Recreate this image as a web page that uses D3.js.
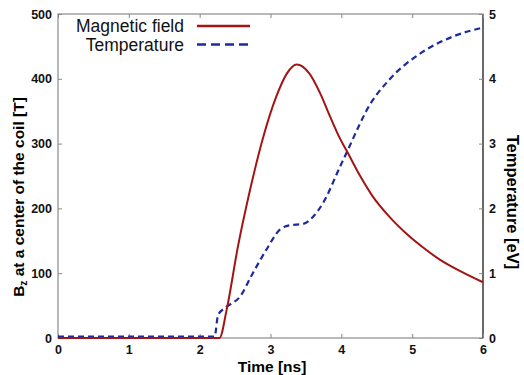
<!DOCTYPE html>
<html>
<head>
	<title></title>
	<style>
		body { margin: 0; background: #fff; }
		text { font-family: "Liberation Sans", Arial, sans-serif; }
	</style>
</head>
<body>

<svg id="chart" width="524" height="375"></svg>

<script src="https://d3js.org/d3.v7.min.js"></script>
<script>
	// Magnetic field (left axis, T) vs time (ns)
	const fieldTime = [0, 2.28, 2.38, 2.54, 2.71, 2.90, 3.08, 3.23, 3.37, 3.55, 3.70, 3.84, 3.98, 4.07, 4.26, 4.44, 4.68, 4.92, 5.15, 5.39, 5.70, 6.0]
	const fieldValue = [0, 0, 43, 141, 228, 311, 372, 408, 422, 408, 378, 342, 308, 290, 251, 219, 187, 161, 140, 121, 102, 86]

	// Temperature (right axis, eV) vs time (ns)
	const tempTime = [0, 2.21, 2.26, 2.38, 2.57, 2.75, 2.94, 3.13, 3.27, 3.46, 3.60, 3.74, 3.98, 4.07, 4.26, 4.35, 4.68, 5.1, 5.57, 6.0]
	const tempValue = [0.02, 0.02, 0.355, 0.48, 0.64, 1.0, 1.36, 1.67, 1.74, 1.76, 1.87, 2.08, 2.64, 2.85, 3.30, 3.50, 3.99, 4.38, 4.65, 4.79]

	const timeTicks = [0, 1, 2, 3, 4, 5, 6]
	const fieldTicks = [0, 100, 200, 300, 400, 500]
	const tempTicks = [0, 1, 2, 3, 4, 5]

	const seriesNames = ['Magnetic field', 'Temperature']
	const seriesColors = ['#a31515', '#1b2a9c']

	const plotLeft = 58, plotRight = 483, plotTop = 14, plotBottom = 338

	const x = d3.scaleLinear().domain([0, 6]).range([plotLeft, plotRight])
	const yB = d3.scaleLinear().domain([0, 500]).range([plotBottom, plotTop])
	const yT = d3.scaleLinear().domain([0, 5]).range([plotBottom, plotTop])

	const svg = d3.select('#chart')

	// frame
	svg.append('rect')
		.attr('x', plotLeft).attr('y', plotTop)
		.attr('width', plotRight - plotLeft).attr('height', plotBottom - plotTop)
		.attr('fill', 'none').attr('stroke', '#8a8a8a').attr('stroke-width', 1.2)
	svg.append('line')
		.attr('x1', plotRight).attr('x2', plotRight).attr('y1', plotTop).attr('y2', plotBottom)
		.attr('stroke', '#333').attr('stroke-width', 1.2)

	// axes with inward ticks
	function styleAxis(g) {
		g.select('.domain').remove()
		g.selectAll('.tick line').attr('stroke', '#888')
		g.selectAll('.tick text')
			.attr('fill', '#111')
			.style('font-size', '12.5px')
			.style('font-weight', 'bold')
	}

	const intFormat = d3.format('d')

	svg.append('g')
		.attr('transform', `translate(0,${plotBottom})`)
		.call(d3.axisBottom(x).tickValues(timeTicks).tickSize(-4).tickPadding(7).tickFormat(intFormat))
		.call(styleAxis)

	svg.append('g')
		.attr('transform', `translate(0,${plotTop})`)
		.call(d3.axisTop(x).tickValues(timeTicks).tickSize(-4).tickFormat(''))
		.call(styleAxis)

	svg.append('g')
		.attr('transform', `translate(${plotLeft},0)`)
		.call(d3.axisLeft(yB).tickValues(fieldTicks).tickSize(-4).tickPadding(6).tickFormat(intFormat))
		.call(styleAxis)

	svg.append('g')
		.attr('transform', `translate(${plotRight},0)`)
		.call(d3.axisRight(yT).tickValues(tempTicks).tickSize(-4).tickPadding(6).tickFormat(intFormat))
		.call(styleAxis)

	// axis titles
	svg.append('text')
		.attr('x', 272).attr('y', 372)
		.attr('text-anchor', 'middle')
		.style('font-size', '15.5px').style('font-weight', 'bold')
		.text('Time [ns]')

	const yLabel = svg.append('text')
		.attr('transform', 'translate(24,197) rotate(-90)')
		.attr('text-anchor', 'middle')
		.style('font-size', '15.5px').style('font-weight', 'bold')
	yLabel.append('tspan').text('B')
	yLabel.append('tspan').attr('dy', 3).style('font-size', '10px').text('z')
	yLabel.append('tspan').attr('dy', -3).text(' at a center of the coil [T]')

	svg.append('text')
		.attr('transform', 'translate(507,202) rotate(90)')
		.attr('text-anchor', 'middle')
		.style('font-size', '16.5px').style('font-weight', 'bold')
		.text('Temperature [eV]')

	// curves
	const fieldData = fieldTime.map((t, i) => [t, fieldValue[i]])
	const tempData = tempTime.map((t, i) => [t, tempValue[i]])

	svg.append('path')
		.datum(tempData)
		.attr('fill', 'none')
		.attr('stroke', seriesColors[1])
		.attr('stroke-width', 2.2)
		.attr('stroke-dasharray', '6,4')
		.attr('d', d3.line().x(d => x(d[0])).y(d => yT(d[1])).curve(d3.curveMonotoneX))

	svg.append('path')
		.datum(fieldData)
		.attr('fill', 'none')
		.attr('stroke', seriesColors[0])
		.attr('stroke-width', 2)
		.attr('d', d3.line().x(d => x(d[0])).y(d => yB(d[1])).curve(d3.curveMonotoneX))

	// legend
	const legend = svg.append('g')
	seriesNames.forEach((name, i) => {
		const ly = 26 + i * 18.5
		legend.append('text')
			.attr('x', 184).attr('y', ly + 6)
			.attr('text-anchor', 'end')
			.style('font-size', '17.5px')
			.attr('fill', '#111')
			.text(name)
		legend.append('line')
			.attr('x1', 197).attr('x2', 250)
			.attr('y1', ly).attr('y2', ly)
			.attr('stroke', seriesColors[i])
			.attr('stroke-width', i ? 2.6 : 2.4)
			.attr('stroke-dasharray', i ? '9,5' : null)
	})
</script>
</body>
</html>
